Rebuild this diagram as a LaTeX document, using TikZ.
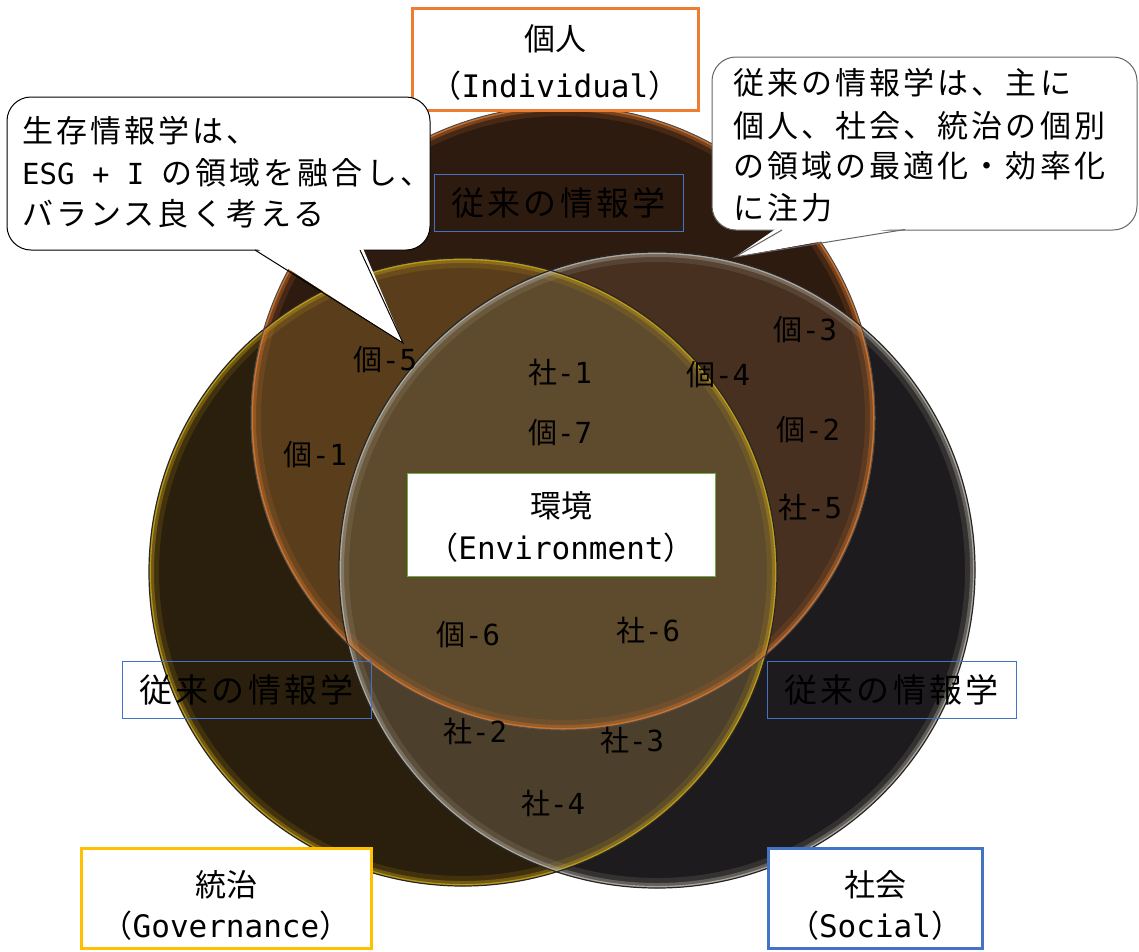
\documentclass[tikz,border=0pt]{standalone}
\usepackage{fontspec}
\newfontfamily\jp{Noto Sans CJK JP}
\newfontfamily\jpw[LetterSpace=10]{Noto Sans CJK JP}
\newfontfamily\lat{DejaVu Sans Mono}
\definecolor{indOnly}{HTML}{2E1B10}
\definecolor{govOnly}{HTML}{2A1F0C}
\definecolor{socOnly}{HTML}{1D1B1D}
\definecolor{indGov}{HTML}{5A3E1C}
\definecolor{indSoc}{HTML}{47301F}
\definecolor{govSoc}{HTML}{4C3F2B}
\definecolor{allThree}{HTML}{5E4A2C}
\definecolor{rimInd}{HTML}{D8782E}
\definecolor{rimGov}{HTML}{C8A418}
\definecolor{rimSoc}{HTML}{B8B2A8}
\definecolor{cOrange}{HTML}{ED7D31}
\definecolor{cGold}{HTML}{FFC000}
\definecolor{cBlue}{HTML}{4472C4}
\definecolor{cGreen}{HTML}{70AD47}
\newcommand\myrim[2]{%
  \begin{scope}
    \clip #1;
    \draw[#2,line width=20pt,opacity=.15] #1;
    \draw[#2,line width=10pt,opacity=.35] #1;
    \draw[#2,line width=4pt,opacity=.85] #1;
  \end{scope}}
\begin{document}
\begin{tikzpicture}[x=1pt,y=-1pt,
  lab/.style={font={\jp\fontsize{29}{31}\selectfont},text=black,inner sep=0pt},
  boxtxt/.style={font={\jp\fontsize{31}{33}\selectfont},text=black,inner sep=0pt},
  bubtxt/.style={font={\jpw\fontsize{31}{33}\selectfont},text=black,inner sep=0pt,anchor=base west},
  oldtxt/.style={font={\jpw\fontsize{33}{35}\selectfont},text=black,inner sep=0pt},
  mainbox/.style={draw,line width=3pt,fill=white,inner sep=0pt},
  oldbox/.style={draw=cBlue,line width=1pt,inner sep=0pt,minimum width=249pt,minimum height=57pt},
  bubble/.style={draw=black,line width=1pt,fill=white,rounded corners=24pt,inner sep=0pt}]
\useasboundingbox (0,0) rectangle (1139,951);
\def\cInd{(563,418) circle[radius=312pt]}
\def\cGov{(463,572) circle[radius=314pt]}
\def\cSoc{(657,570) circle[radius=318pt]}
% fills
\fill[indOnly] \cInd;
\fill[govOnly] \cGov;
\fill[socOnly] \cSoc;
\begin{scope}\clip \cInd; \fill[indGov] \cGov; \end{scope}
\begin{scope}\clip \cInd; \fill[indSoc] \cSoc; \end{scope}
\begin{scope}\clip \cGov; \fill[govSoc] \cSoc; \end{scope}
\begin{scope}\clip \cInd; \clip \cGov; \fill[allThree] \cSoc; \end{scope}
% rims
\myrim{\cGov}{rimGov}
\myrim{\cSoc}{rimSoc}
\myrim{\cInd}{rimInd}
\draw[black!85,line width=1.2pt] \cGov;
\draw[black!85,line width=1.2pt] \cSoc;
\draw[black!70,line width=1pt] \cInd;
% labels
\node[lab] (k5) at (385,360) {個{\lat -5}};
\node[lab] (k1) at (315,455) {個{\lat -1}};
\node[lab] (s1) at (560,372) {社{\lat -1}};
\node[lab] (k7) at (560,433) {個{\lat -7}};
\node[lab] (k4) at (718,375) {個{\lat -4}};
\node[lab] (k3) at (805,330) {個{\lat -3}};
\node[lab] (k2) at (808,430) {個{\lat -2}};
\node[lab] (s5) at (810,507) {社{\lat -5}};
\node[lab] (k6) at (468,635) {個{\lat -6}};
\node[lab] (s6) at (648,630) {社{\lat -6}};
\node[lab] (s2) at (475,731) {社{\lat -2}};
\node[lab] (s3) at (632,740) {社{\lat -3}};
\node[lab] (s4) at (553,803) {社{\lat -4}};
% old informatics boxes
\node[oldbox] (oT) at (558.5,202.5) {};
\node[oldtxt] (oTt) at (oT.center) {従来の情報学};
\node[oldbox] (oL) at (246.5,690) {};
\node[oldtxt] (oLt) at (oL.center) {従来の情報学};
\node[oldbox] (oR) at (891.5,690) {};
\node[oldtxt] (oRt) at (oR.center) {従来の情報学};
% environment box
\node[draw=cGreen,line width=1pt,fill=white,inner sep=0pt,minimum width=308pt,minimum height=103pt] (envbox) at (561,524.5) {};
\node[boxtxt] (env1) at (561,506) {環境};
\node[boxtxt] (env2) at (561,548) {（{\lat Environment}）};
% main boxes
\node[mainbox,draw=cOrange,minimum width=286pt,minimum height=102pt] (indbox) at (555,59) {};
\node[boxtxt] (ind1) at (555,39) {個人};
\node[boxtxt] (ind2) at (555,86) {（{\lat Individual}）};
\node[mainbox,draw=cGold,minimum width=290pt,minimum height=100pt] (govbox) at (226,898) {};
\node[boxtxt] (gov1) at (226,885) {統治};
\node[boxtxt] (gov2) at (226,926) {（{\lat Governance}）};
\node[mainbox,draw=cBlue,minimum width=214pt,minimum height=100pt] (socbox) at (875,898) {};
\node[boxtxt] (soc1) at (875,885) {社会};
\node[boxtxt] (soc2) at (875,926) {（{\lat Social}）};
% left bubble
\node[bubble,minimum width=423pt,minimum height=153pt] (bubL) at (218.5,173.5) {};
\coordinate (tLa) at (255,250);
\coordinate (tLb) at (360,250);
\coordinate (tipL) at (403,343);
\fill[white] (253,246) -- (tipL) -- (362,246) -- cycle;
\draw[black,line width=1pt,line join=miter] (tLa) -- (tipL) -- (tLb);
\node[bubtxt] (bl1) at (22,142) {生存情報学は、};
\node[bubtxt] (bl2) at (22,184) {{\lat\fontsize{29}{31}\selectfont ESG + I}\hspace{17pt}の領域を融合し、};
\node[bubtxt] (bl3) at (22,225) {バランス良く考える};
% right bubble
\node[bubble,draw=black!60,minimum width=425pt,minimum height=173pt] (bubR) at (924.5,143.5) {};
\coordinate (tRa) at (782,230);
\coordinate (tRb) at (905,229.5);
\coordinate (tipR) at (735,257);
\fill[white] (780,226) -- (tipR) -- (907,226) -- cycle;
\draw[black!60,line width=1pt,line join=miter] (tRa) -- (tipR) -- (tRb);
\node[bubtxt] (br1) at (733,94) {従来の情報学は、主に};
\node[bubtxt] (br2) at (733,137) {個人、社会、統治の個別};
\node[bubtxt] (br3) at (733,177) {の領域の最適化・効率化};
\node[bubtxt] (br4) at (733,219) {に注力};
\end{tikzpicture}
\end{document}
